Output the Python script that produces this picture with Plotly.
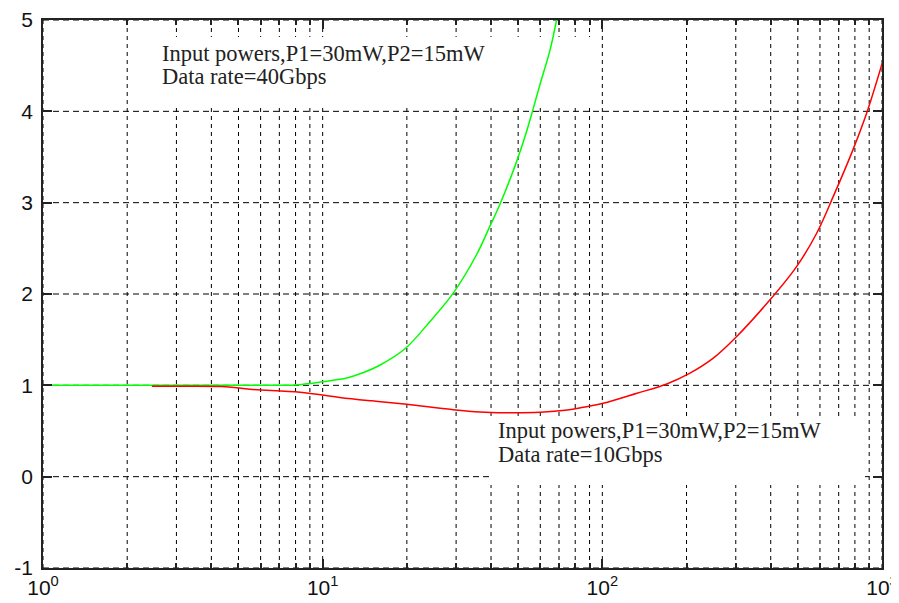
import plotly.graph_objects as go

# ---- data ----
green_x = [1, 2, 4, 6, 8, 10, 12.2, 14, 16, 19.7, 24.2, 29.3, 35.5, 39.6, 43, 48.7, 53.6, 56.6, 59.8, 65, 68.6]
green_y = [1.0, 1.0, 1.0, 1.0, 1.005, 1.04, 1.08, 1.14, 1.22, 1.40, 1.70, 2.01, 2.43, 2.74, 2.98, 3.40, 3.78, 4.03, 4.29, 4.67, 5.0]

red_x = [2.45, 3, 4.5, 5.5, 8.3, 11.5, 15, 20, 29, 36.5, 45, 60, 75, 85.5, 100.7, 133, 170, 205, 250, 298, 397, 495, 584, 669, 778, 881, 1000]
red_y = [0.99, 0.99, 0.985, 0.957, 0.924, 0.868, 0.83, 0.792, 0.735, 0.708, 0.70, 0.705, 0.73, 0.76, 0.803, 0.913, 1.015, 1.13, 1.30, 1.515, 1.934, 2.30, 2.665, 3.066, 3.54, 3.98, 4.52]

x_tickvals = [1, 10, 100, 1000]
x_ticktext = ["10<sup>0</sup>", "10<sup>1</sup>", "10<sup>2</sup>", "10<sup>3</sup>"]
x_minor = [m * d for d in (1, 10, 100) for m in range(2, 10)]
y_tickvals = [-1, 0, 1, 2, 3, 4, 5]
y_ticktext = ["-1", "0", "1", "2", "3", "4", "5"]

label_top = ["Input powers,P1=30mW,P2=15mW", "Data rate=40Gbps"]
label_bottom = ["Input powers,P1=30mW,P2=15mW", "Data rate=10Gbps"]

X_RANGE = [1, 1000]
Y_RANGE = [-1, 5]

# pixel helpers (plot area in the window: x 43..882, y 20..568)
def px_to_data_x(px):
    return 10 ** ((px - 43) / 279.67)

def px_to_data_y(py):
    return (568 - py) / 91.333 - 1

def px_to_paper_x(px):
    return (px - 43) / 839.0

def px_to_paper_y(py):
    return (568 - py) / 548.0

fig = go.Figure()

# grid lines drawn as traces (so white label boxes can sit above grid, below curves)
vx, vy = [], []
for xv in x_tickvals + x_minor:
    vx += [xv, xv, None]
    vy += [Y_RANGE[0], Y_RANGE[1], None]
fig.add_trace(go.Scatter(x=vx, y=vy, mode="lines", line=dict(color="#000000", width=1, dash="4px,4px"),
                         hoverinfo="skip", showlegend=False))
hx, hy = [], []
for yv in y_tickvals:
    hx += [X_RANGE[0], X_RANGE[1], None]
    hy += [yv, yv, None]
fig.add_trace(go.Scatter(x=hx, y=hy, mode="lines", line=dict(color="#000000", width=1, dash="6px,4px"),
                         hoverinfo="skip", showlegend=False))

# white label boxes
for (x0, x1, y0, y1) in [(150, 598, 37, 105), (490, 865, 416, 485)]:
    bx = [px_to_data_x(x0), px_to_data_x(x1), px_to_data_x(x1), px_to_data_x(x0), px_to_data_x(x0)]
    by = [px_to_data_y(y1), px_to_data_y(y1), px_to_data_y(y0), px_to_data_y(y0), px_to_data_y(y1)]
    fig.add_trace(go.Scatter(x=bx, y=by, mode="lines", fill="toself", fillcolor="white",
                             line=dict(width=0, color="white"), hoverinfo="skip", showlegend=False))

fig.add_trace(go.Scatter(x=green_x, y=green_y, mode="lines", line=dict(color="#00ff00", width=1.5, shape="spline"), showlegend=False))
fig.add_trace(go.Scatter(x=red_x, y=red_y, mode="lines", line=dict(color="#ff0000", width=1.5, shape="spline"), showlegend=False))

afont = dict(family="Liberation Serif, Times New Roman, serif", size=22.5, color="#222222")
for txt, (px, py) in zip(label_top, [(160, 54), (160, 77)]):
    fig.add_annotation(text=txt, xref="paper", yref="paper", x=px_to_paper_x(px), y=px_to_paper_y(py),
                       xanchor="left", yanchor="middle", showarrow=False, font=afont)
for txt, (px, py) in zip(label_bottom, [(496, 430.5), (496, 455)]):
    fig.add_annotation(text=txt, xref="paper", yref="paper", x=px_to_paper_x(px), y=px_to_paper_y(py),
                       xanchor="left", yanchor="middle", showarrow=False, font=afont)

tfont = dict(family="Liberation Sans, Arial, sans-serif", size=21, color="#111111")
fig.update_xaxes(type="log", range=[0, 3], tickmode="array", tickvals=x_tickvals, ticktext=x_ticktext,
                 showgrid=False,
                 minor=dict(tickmode="array", tickvals=x_minor, showgrid=False,
                            ticks="inside", ticklen=5, tickcolor="#222"),
                 ticks="inside", ticklen=9, tickcolor="#222", tickwidth=1.5,
                 showline=True, linecolor="#222222", linewidth=1.5, mirror="ticks",
                 tickfont=tfont, zeroline=False, automargin=False)
fig.update_yaxes(range=Y_RANGE, tickmode="array", tickvals=y_tickvals, ticktext=y_ticktext,
                 showgrid=False,
                 ticks="inside", ticklen=9, tickcolor="#222", tickwidth=1.5,
                 showline=True, linecolor="#222222", linewidth=1.5, mirror="ticks",
                 tickfont=tfont, zeroline=False, ticklabelstandoff=4, automargin=False)
# the page body adds an 8px margin, so the figure is sized/offset to land the plot area at 43..882 x 20..568
fig.update_layout(width=891, height=595, margin=dict(l=35, r=17, t=12, b=35, autoexpand=False),
                  plot_bgcolor="white", paper_bgcolor="white", hovermode=False)
fig.write_html("out.html")
